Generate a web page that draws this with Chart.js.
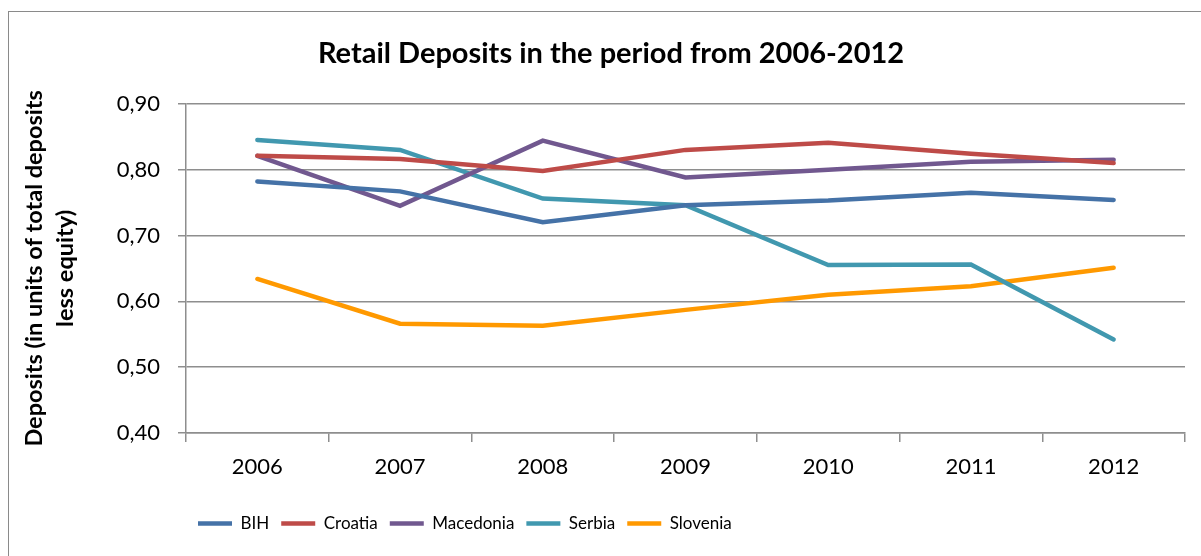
<!DOCTYPE html>
<html>
<head>
<meta charset="utf-8">
<title>Retail Deposits 2006-2012</title>
<script src="https://cdn.jsdelivr.net/npm/chart.js@4"></script>
<style>
  html, body { margin: 0; padding: 0; background: #fff; }
  #deposits { display: block; }
</style>
</head>
<body>
<canvas id="deposits" width="1201" height="556"></canvas>
<script>
const years = ["2006", "2007", "2008", "2009", "2010", "2011", "2012"];

const bih       = [0.782, 0.767, 0.720, 0.746, 0.753, 0.765, 0.754];
const croatia   = [0.821, 0.816, 0.798, 0.830, 0.841, 0.824, 0.810];
const macedonia = [0.821, 0.745, 0.844, 0.788, 0.800, 0.812, 0.815];
const serbia    = [0.845, 0.830, 0.756, 0.746, 0.655, 0.656, 0.542];
const slovenia  = [0.634, 0.566, 0.563, 0.587, 0.610, 0.623, 0.651];

const FONT = "Lato, Carlito, Calibri, sans-serif";

function series(label, data, color) {
  return {
    label,
    data,
    borderColor: color,
    backgroundColor: color,
    borderWidth: 4.5,
    borderCapStyle: "round",
    borderJoinStyle: "miter",
    pointRadius: 0,
    tension: 0,
  };
}

// white page plus the thin grey frame (top and left edges show)
const frame = {
  id: "frame",
  beforeDraw(chart) {
    const ctx = chart.ctx;
    ctx.save();
    ctx.fillStyle = "#fff";
    ctx.fillRect(0, 0, chart.width, chart.height);
    ctx.strokeStyle = "#8a8a8a";
    ctx.lineWidth = 1;
    ctx.strokeRect(8.5, 11.5, chart.width + 10, chart.height + 10);
    ctx.restore();
  },
};

const ctx = document.getElementById("deposits");

new Chart(ctx, {
  type: "line",
  data: {
    labels: years,
    datasets: [
      series("BIH", bih, "#4572a7"),
      series("Croatia", croatia, "#be4b48"),
      series("Macedonia", macedonia, "#71588f"),
      series("Serbia", serbia, "#4198af"),
      series("Slovenia", slovenia, "#ff9900"),
    ],
  },
  options: {
    responsive: false,
    animation: false,
    layout: {
      padding: { left: 37, right: 16, top: 0, bottom: 14 },
    },
    plugins: {
      title: {
        display: true,
        text: "Retail Deposits in the period from 2006-2012",
        color: "#000",
        font: { family: FONT, size: 29, weight: "bold", lineHeight: 1.2 },
        padding: { top: 36, bottom: 33 },
      },
      legend: {
        position: "bottom",
        align: "start",
        fullSize: false,
        labels: {
          color: "#000",
          font: { family: FONT, size: 17 },
          usePointStyle: true,
          pointStyle: "line",
          pointStyleWidth: 34,
          padding: 12,
        },
      },
      tooltip: { enabled: false },
    },
    scales: {
      x: {
        offset: true,
        afterFit(scale) {
          scale.height = 70;
        },
        grid: {
          offset: true,
          drawOnChartArea: false,
          drawTicks: true,
          tickLength: 9,
          color: "#8e8e8e",
          lineWidth: 1.5,
        },
        border: { color: "#8e8e8e", width: 1.5 },
        ticks: {
          color: "#000",
          font: { family: FONT, size: 22 },
          padding: 12,
        },
      },
      y: {
        min: 0.4,
        max: 0.9,
        afterFit(scale) {
          scale.width = 149;
        },
        grid: {
          color: "#8e8e8e",
          lineWidth: 1.5,
          drawTicks: true,
          tickLength: 8,
        },
        border: { color: "#8e8e8e", width: 1.5 },
        ticks: {
          stepSize: 0.1,
          color: "#000",
          font: { family: FONT, size: 22 },
          padding: 18,
          callback: (v) => v.toFixed(2).replace(".", ","),
        },
        title: {
          display: true,
          text: ["Deposits (in units of total deposits", "less equity)"],
          color: "#000",
          font: { family: FONT, size: 23.5, weight: "bold", lineHeight: 1.33 },
          padding: { top: -18, bottom: 0 },
        },
      },
    },
  },
  plugins: [frame],
});
</script>
</body>
</html>
